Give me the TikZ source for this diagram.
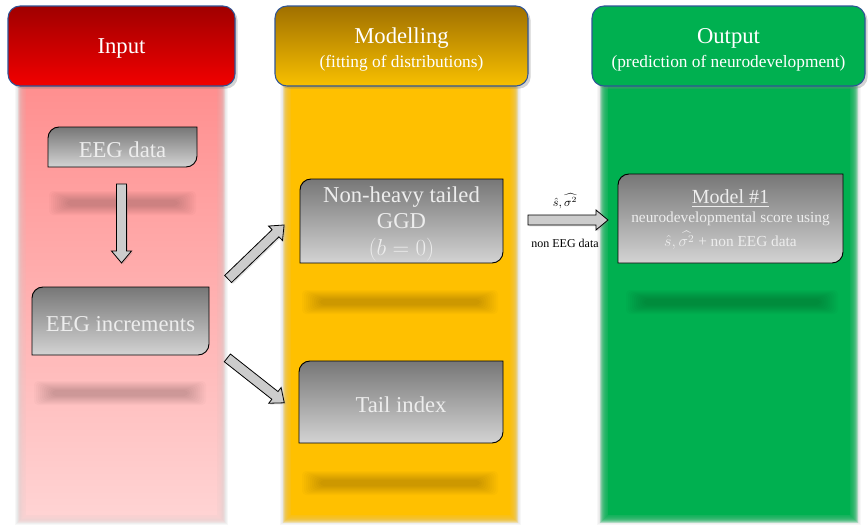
\documentclass[tikz,border=0pt]{standalone}
\usepackage{amsmath}
\usepackage{fontspec}
\setmainfont{Liberation Serif}
\usepackage{tikz}
\usetikzlibrary{calc,positioning,shadows,shapes.arrows}

\definecolor{inreddark}{HTML}{A00000}
\definecolor{inred}{HTML}{F20000}
\definecolor{inpinktop}{HTML}{FF8F8F}
\definecolor{inpinkbot}{HTML}{FFD3D3}
\definecolor{modgolddark}{HTML}{A07000}
\definecolor{modgold}{HTML}{F8C000}
\definecolor{modbody}{HTML}{FFC000}
\definecolor{outgreen}{HTML}{00B050}
\definecolor{headline}{HTML}{2F5597}
\definecolor{boxtop}{HTML}{777777}
\definecolor{boxbot}{HTML}{D3D3D3}

\newcommand\subfont{\fontsize{13}{15}\selectfont}

\tikzset{
  header/.style={draw=headline, line width=0.8pt, rounded corners=9pt,
    drop shadow={opacity=0.35, shadow xshift=2pt, shadow yshift=-2pt}},
  headtext/.style={text=white, align=center, font=\fontsize{17}{19}\selectfont},
  boxtext/.style={text=white!93!black, align=center, yshift=-2pt, font=\fontsize{17}{20}\selectfont},
  modeltext/.style={text=white!93!black, align=center, font=\fontsize{11.5}{14}\selectfont},
  smalltext/.style={font=\fontsize{9}{10}\selectfont},
  fatarrow/.style={single arrow, draw=black, fill=gray!40, line width=0.6pt,
    inner sep=3.4pt, single arrow head extend=3.8pt, single arrow tip angle=80,
    drop shadow={opacity=0.25, shadow xshift=1pt, shadow yshift=-1pt}},
}

% grey box, round corners top left and bottom right
\newcommand\graybox[6]{%
  \shade[top color=boxtop, bottom color=boxbot, draw=black, line width=0.7pt]
    (#2,#5) -- (#2,#3+11) to[out=90,in=180] (#2+11,#3) -- (#4,#3)
    -- (#4,#5-11) to[out=-90,in=0] (#4-11,#5) -- cycle;
  \node[boxtext] (#1) at ({(#2+#4)/2},{(#3+#5)/2}) {#6};}

% block arrow between two named points
\newcommand\fatarrow[2]{%
  \path let \p1=($(#2)-(#1)$), \n1={atan2(\y1,\x1)}, \n2={veclen(\x1,\y1)} in
    node[fatarrow, rotate=\n1, minimum height=\n2] at ($(#1)!0.5!(#2)$) {};}

\begin{document}
\begin{tikzpicture}[x=0.75pt,y=-0.75pt]
  \useasboundingbox (0,0) rectangle (868,526);

  % column bodies with soft edges
  \foreach \xa/\xb/\ctop/\cbot in {18/225/inpinktop/inpinkbot, 283/518/modbody/modbody, 600/858/outgreen/outgreen} {
    \foreach \k in {0,...,5}
      \fill[black, opacity=0.03] (\xa-3+\k,86) rectangle (\xb+3-\k,525-\k);
    \foreach \k in {0,...,7}
      \shade[top color=\ctop, bottom color=\cbot, opacity=0.25] (\xa+\k,86) rectangle (\xb-\k,522-\k);
    \shade[top color=\ctop, bottom color=\cbot] (\xa+8,86) rectangle (\xb-8,514);
  }

  % blurred bars
  \foreach \xa/\xb/\yc in {55/190/203, 40/200/393, 308/492/302, 308/492/483, 632/832/302}
    \foreach \k in {0,...,9}
      \fill[black, opacity=0.018, rounded corners=3pt] (\xa-6+2*\k,\yc-12+\k) rectangle (\xb+6-2*\k,\yc+12-\k);

  % headers
  \draw[header, top color=inreddark, bottom color=inred] (8,6) rectangle (235,86);
  \draw[header, top color=modgolddark, bottom color=modgold] (275,6) rectangle (528,86);
  \draw[header, fill=outgreen] (592,6) rectangle (865,86);
  \node[headtext] (input) at (121.5,48) {Input};
  \node[headtext] (modelling) at (401.5,50) {Modelling\\[-1pt]{\subfont (fitting of distributions)}};
  \node[headtext] (output) at (728.5,50) {Output\\[-1pt]{\subfont (prediction of neurodevelopment)}};

  % boxes
  \graybox{data}{48}{127}{197}{167}{EEG data}
  \graybox{incr}{32}{287}{209}{355}{EEG increments}
  \graybox{ggd}{300}{179}{503}{263}{Non-heavy tailed\\GGD\\$(b=0)$}
  \graybox{tail}{299}{361}{503}{443}{Tail index}
  \graybox{model}{618}{174}{843}{263}{}
  \node[modeltext] (modeltxt) at (730.5,220)
    {{\fontsize{15}{17}\selectfont\underline{Model \#1}}\\neurodevelopmental score using\\[2.5pt]$\hat{s},\widehat{\sigma^2}$ + non EEG data};

  % arrows
  \coordinate (d1) at (121.5,181);
  \coordinate (d2) at (121.5,260);
  \coordinate (u1) at (226,281);
  \coordinate (u2) at (282,227);
  \coordinate (l1) at (225,356);
  \coordinate (l2) at (282,401);
  \coordinate (h1) at (525,220);
  \coordinate (h2) at (605,220);
  \fatarrow{d1}{d2}
  \fatarrow{u1}{u2}
  \fatarrow{l1}{l2}
  \fatarrow{h1}{h2}
  \node[smalltext, above=5pt] (est) at ($(h1)!0.5!(h2)$) {$\hat{s},\widehat{\sigma^2}$};
  \node[smalltext, below=11pt] (noneeg) at ($(h1)!0.5!(h2)$) {non EEG data};
\end{tikzpicture}
\end{document}
